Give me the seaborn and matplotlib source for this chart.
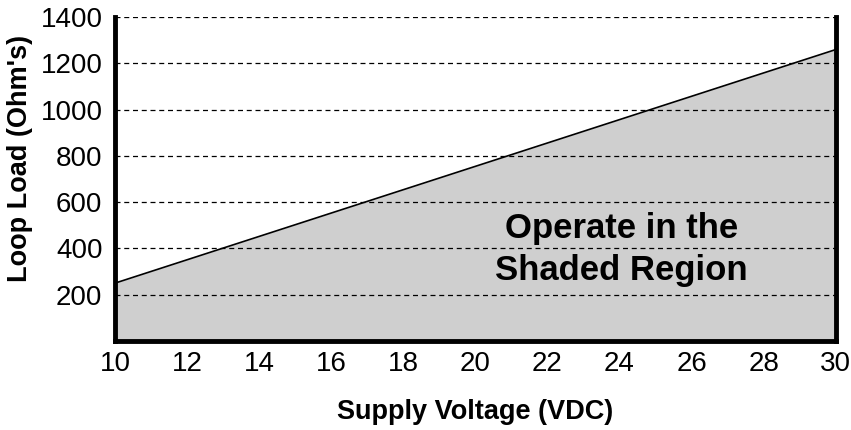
import numpy as np
import pandas as pd
import matplotlib
matplotlib.use("Agg")
import matplotlib.pyplot as plt
import seaborn as sns

sns.set_style("white")
plt.rcParams["font.family"] = ["Liberation Sans", "DejaVu Sans"]
plt.rcParams["text.color"] = "black"
plt.rcParams["axes.labelcolor"] = "black"
plt.rcParams["xtick.color"] = "black"
plt.rcParams["ytick.color"] = "black"

# Data
voltage = [10, 30]
loop_load = [250, 1260]
x_ticks = [10, 12, 14, 16, 18, 20, 22, 24, 26, 28, 30]
y_ticks = [200, 400, 600, 800, 1000, 1200, 1400]

df = pd.DataFrame({"Supply Voltage (VDC)": voltage, "Loop Load (Ohm's)": loop_load})

fig = plt.figure(figsize=(8.51, 4.30), dpi=100)
ax = fig.add_axes([0.135, 0.207, 0.847, 0.753])

# Shaded operating region
ax.fill_between(df["Supply Voltage (VDC)"], 0, df["Loop Load (Ohm's)"],
                color="#cfcfcf", zorder=1, linewidth=0)
sns.lineplot(data=df, x="Supply Voltage (VDC)", y="Loop Load (Ohm's)",
             ax=ax, color="black", linewidth=1.2, zorder=3)

# Dashed grid lines
for y in y_ticks:
    ax.axhline(y, color="black", linestyle=(0, (4, 3)), linewidth=0.9, zorder=2)

ax.set_xlim(10, 30)
ax.set_ylim(0, 1400)
ax.set_xticks(x_ticks)
ax.set_yticks(y_ticks)
ax.tick_params(axis="both", length=0, labelsize=20, colors="black")
ax.tick_params(axis="x", pad=7)
ax.tick_params(axis="y", pad=9)

for side in ["left", "right", "bottom"]:
    ax.spines[side].set_linewidth(3.5)
    ax.spines[side].set_color("black")
    ax.spines[side].set_zorder(5)
ax.spines["top"].set_visible(False)

ax.set_xlabel("Supply Voltage (VDC)", fontsize=19.5, fontweight="bold", labelpad=16)
ax.set_ylabel("Loop Load (Ohm's)", fontsize=19.5, fontweight="bold")
ax.yaxis.set_label_coords(-0.113, 0.565)

ax.text(24.05, 395, "Operate in the\nShaded Region", ha="center", va="center",
        fontsize=25, fontweight="bold", linespacing=1.35, zorder=4)

fig.savefig("out.png", dpi=100)
